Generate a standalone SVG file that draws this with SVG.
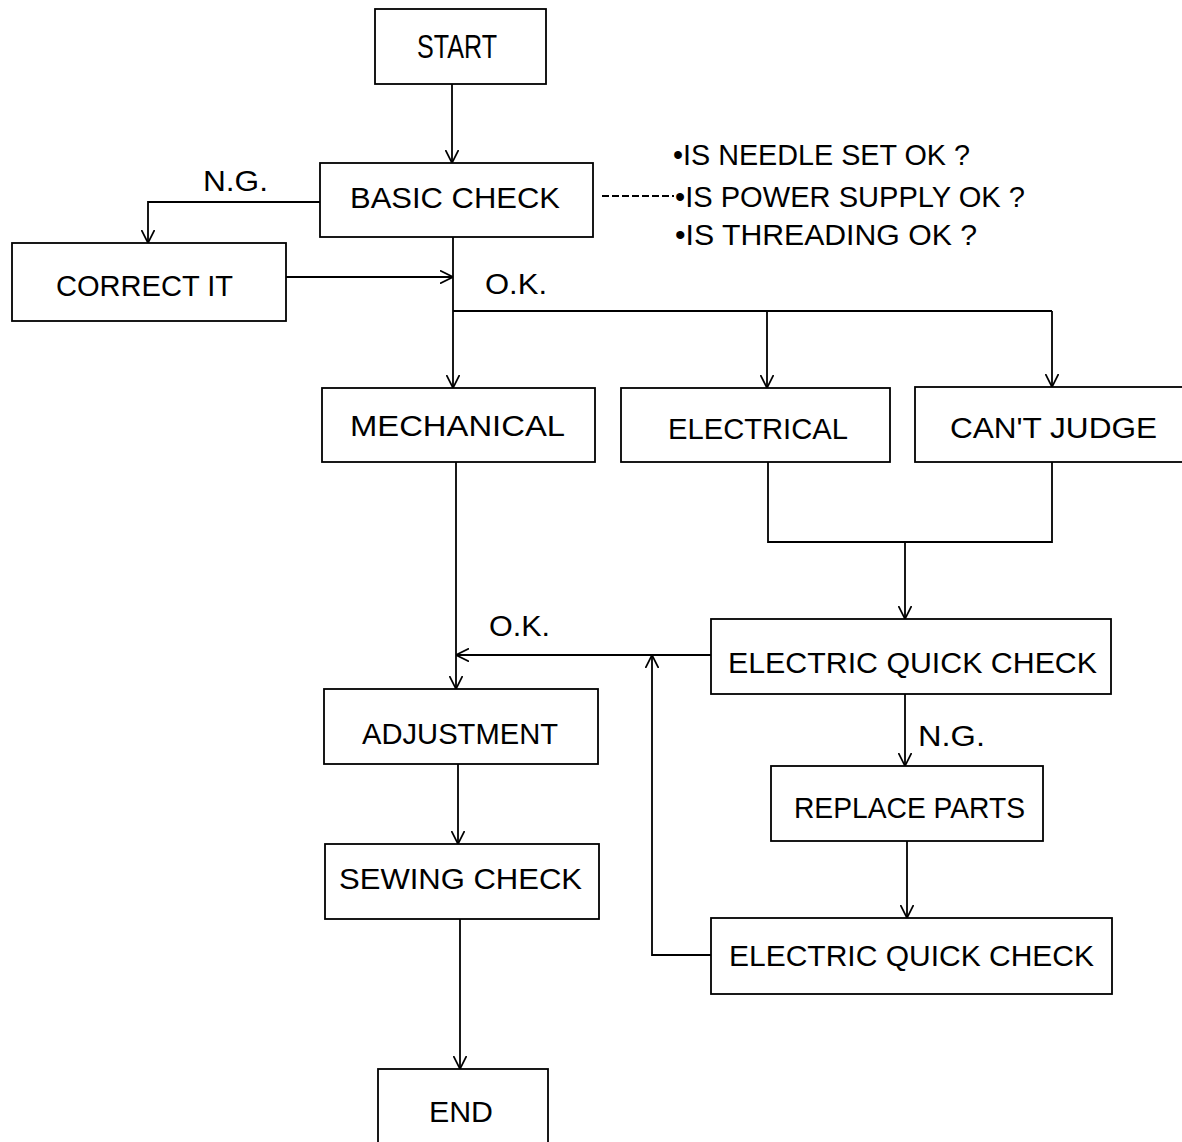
<svg xmlns="http://www.w3.org/2000/svg" width="1182" height="1142" viewBox="0 0 1182 1142">
<style>
.box{fill:#fff;stroke:#000;stroke-width:1.8}
.t{font-family:"Liberation Sans",Arial,sans-serif;font-size:30px;fill:#000}
.c{fill:none;stroke:#000;stroke-width:1.8}
.a{marker-end:url(#arr)}
</style>
<defs>
<marker id="arr" viewBox="0 0 13 14" refX="13" refY="7" markerWidth="13" markerHeight="14" markerUnits="userSpaceOnUse" orient="auto">
<path d="M0,0.5 L13,7 L0,13.5" fill="none" stroke="#000" stroke-width="1.7"/>
</marker>
</defs>
<rect width="1182" height="1142" fill="#fff"/>
<g id="connectors">
<line class="c a" x1="452" y1="84" x2="452" y2="163"/>
<polyline class="c a" points="320,202 148,202 148,243"/>
<line class="c a" x1="286" y1="277" x2="453" y2="277"/>
<line class="c a" x1="453" y1="237" x2="453" y2="388"/>
<line class="c" x1="453" y1="311" x2="1052" y2="311"/>
<line class="c a" x1="767" y1="311" x2="767" y2="388"/>
<line class="c a" x1="1052" y1="311" x2="1052" y2="387"/>
<polyline class="c" points="768,462 768,542 1052,542 1052,462"/>
<line class="c a" x1="905" y1="542" x2="905" y2="619"/>
<line class="c a" x1="456" y1="462" x2="456" y2="689"/>
<line class="c a" x1="711" y1="655" x2="456" y2="655"/>
<line class="c a" x1="905" y1="694" x2="905" y2="766"/>
<line class="c a" x1="907" y1="841" x2="907" y2="918"/>
<polyline class="c a" points="711,955 652,955 652,655"/>
<line class="c a" x1="458" y1="764" x2="458" y2="844"/>
<line class="c a" x1="460" y1="919" x2="460" y2="1069"/>
<line class="c" x1="602" y1="196" x2="674" y2="196" stroke-dasharray="7,3" stroke-width="2"/>
<text class="t" x="203" y="191" textLength="65" lengthAdjust="spacingAndGlyphs">N.G.</text>
<text class="t" x="485" y="294" textLength="62" lengthAdjust="spacingAndGlyphs">O.K.</text>
<text class="t" x="489" y="636" textLength="61" lengthAdjust="spacingAndGlyphs">O.K.</text>
<text class="t" x="918" y="746" textLength="67" lengthAdjust="spacingAndGlyphs">N.G.</text>
</g>
<g id="start">
<rect class="box" x="375" y="9" width="171" height="75"/>
<text class="t" x="417" y="58" style="font-size:34px" textLength="80" lengthAdjust="spacingAndGlyphs">START</text>
</g>
<g id="basic-check">
<rect class="box" x="320" y="163" width="273" height="74"/>
<text class="t" x="350" y="208" textLength="210" lengthAdjust="spacingAndGlyphs">BASIC CHECK</text>
</g>
<g id="checklist">
<text class="t" x="673" y="165" textLength="297" lengthAdjust="spacingAndGlyphs">•IS NEEDLE SET OK ?</text>
<text class="t" x="675" y="207" textLength="350" lengthAdjust="spacingAndGlyphs">•IS POWER SUPPLY OK ?</text>
<text class="t" x="675" y="245" textLength="302" lengthAdjust="spacingAndGlyphs">•IS THREADING OK ?</text>
</g>
<g id="correct-it">
<rect class="box" x="12" y="243" width="274" height="78"/>
<text class="t" x="56" y="296" textLength="177" lengthAdjust="spacingAndGlyphs">CORRECT IT</text>
</g>
<g id="mechanical">
<rect class="box" x="322" y="388" width="273" height="74"/>
<text class="t" x="350" y="436" textLength="215" lengthAdjust="spacingAndGlyphs">MECHANICAL</text>
</g>
<g id="electrical">
<rect class="box" x="621" y="388" width="269" height="74"/>
<text class="t" x="668" y="439" textLength="180" lengthAdjust="spacingAndGlyphs">ELECTRICAL</text>
</g>
<g id="cant-judge">
<rect class="box" x="915" y="387" width="290" height="75"/>
<text class="t" x="950" y="438" textLength="207" lengthAdjust="spacingAndGlyphs">CAN'T JUDGE</text>
</g>
<g id="electric-quick-check-1">
<rect class="box" x="711" y="619" width="400" height="75"/>
<text class="t" x="728" y="673" textLength="369" lengthAdjust="spacingAndGlyphs">ELECTRIC QUICK CHECK</text>
</g>
<g id="replace-parts">
<rect class="box" x="771" y="766" width="272" height="75"/>
<text class="t" x="794" y="818" textLength="231" lengthAdjust="spacingAndGlyphs">REPLACE PARTS</text>
</g>
<g id="electric-quick-check-2">
<rect class="box" x="711" y="918" width="401" height="76"/>
<text class="t" x="729" y="966" textLength="365" lengthAdjust="spacingAndGlyphs">ELECTRIC QUICK CHECK</text>
</g>
<g id="adjustment">
<rect class="box" x="324" y="689" width="274" height="75"/>
<text class="t" x="362" y="744" textLength="196" lengthAdjust="spacingAndGlyphs">ADJUSTMENT</text>
</g>
<g id="sewing-check">
<rect class="box" x="325" y="844" width="274" height="75"/>
<text class="t" x="339" y="889" textLength="243" lengthAdjust="spacingAndGlyphs">SEWING CHECK</text>
</g>
<g id="end">
<rect class="box" x="378" y="1069" width="170" height="90"/>
<text class="t" x="429" y="1122" textLength="64" lengthAdjust="spacingAndGlyphs">END</text>
</g>
</svg>
